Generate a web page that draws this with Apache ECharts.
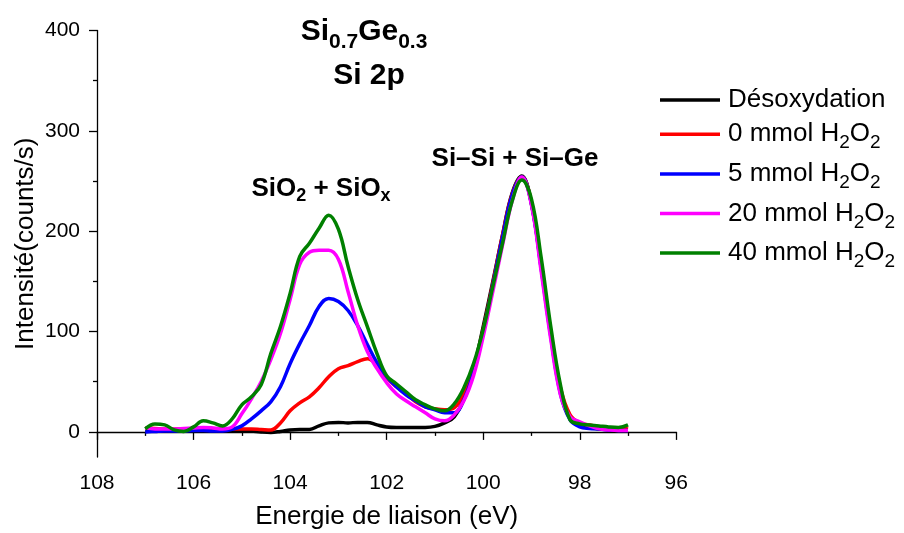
<!DOCTYPE html>
<html>
<head>
<meta charset="utf-8">
<script src="https://cdn.jsdelivr.net/npm/echarts@6/dist/echarts.min.js"></script>
<style>html,body{margin:0;padding:0;background:#fff}#c{width:904px;height:533px}</style>
</head>
<body>
<div id="c"></div>
<script>
// Binding energy (eV)
const energies = [107.0,106.8,106.6,106.4,106.2,106.0,105.8,105.6,105.4,105.2,105.0,104.8,104.6,104.4,104.2,104.0,103.8,103.6,103.4,103.2,103.0,102.8,102.6,102.4,102.2,102.0,101.8,101.6,101.4,101.2,101.0,100.8,100.6,100.4,100.2,100.0,99.8,99.6,99.4,99.2,99.0,98.8,98.6,98.4,98.2,98.0,97.8,97.6,97.4,97.2,97.0];
const desox  = [1,1,1,1,1,1.5,1.5,1,1,1.5,1.5,1,0,-0.5,0.5,2,2.5,2.5,6,9,9.5,9,9.5,9.5,7,5,4.5,4.5,4.5,4.5,5.5,9,15,33,63,105,150,196,238,255,227,165,98,40,14,7,4,3,2,1.5,1.5];
const h0     = [4,3.5,3,3,3,3,3.5,3.5,3,3,3,3,2.5,2,9,21,29,35,44,55,63,66,70,73,67,54,45,38,30,25,23,22,24,38,64,102,148,196,237,254,229,168,100,44,17,9,7,5,4,4,3];
const h5     = [0,0.5,1,1,1,1.5,1.5,1,1,2.5,6,13,21,30,45,68,88,106,125,133,130,121,106,87,69,55,45,37,31,25,22,19,19,32,60,100,146,194,236,254,227,163,95,38,12,5,3.5,3,2,1.5,1.5];
const h20    = [4,3,3,3,3.5,4,4.5,4,3,5,18,33,50,72,98,132,167,179,181,181,172,140,106,80,63,49,38,31,25,19,13,11,17,31,56,95,140,186,230,254,226,160,92,37,15,10,6,3,2,1.5,1.5];
const h40    = [3,8,7,2,0.5,5,11,9,6,13,27,35,47,78,105,138,175,188,203,216,202,165,132,105,78,56,48,40,32,27,23,21,28,44,68,102,145,188,230,251,232,174,105,47,12,8,7,6,5,4.5,7];
const seriesNames = ['Désoxydation','0 mmol H2O2','5 mmol H2O2','20 mmol H2O2','40 mmol H2O2'];
const seriesValues = [desox, h0, h5, h20, h40];
const colors = ['#000000','#ff0000','#0000ff','#ff00ff','#008000'];
const xTicks = {min: 96, max: 108, interval: 2};
const yTicks = {min: 0, max: 400, interval: 100};

const FONT = 'Liberation Sans, Arial, Helvetica, sans-serif';
const chart = echarts.init(document.getElementById('c'), null, {renderer: 'canvas'});

const series = seriesNames.map((n, i) => ({
  name: n, type: 'line', xAxisIndex: 0, yAxisIndex: 0,
  data: energies.map((e, k) => [e, seriesValues[i][k]]),
  showSymbol: false, symbol: 'none', smooth: 0.4,
  lineStyle: {width: 3.5, color: colors[i]}, itemStyle: {color: colors[i]},
  z: 2 + i
}));

const axisLineStyle = {show: true, lineStyle: {color: '#000', width: 1.3}};

function subText(x, y, parts, mainSize, subSize, off) {
  // parts: array of [text, isSub]
  const L = 2 * off + subSize;
  return {
    type: 'text', x: x, y: y, z: 10,
    style: {
      text: parts.map(p => (p[1] ? '{s|' : '{m|') + p[0] + '}').join(''),
      align: 'center', verticalAlign: 'middle', fill: '#000',
      rich: {
        m: {fontSize: mainSize, fontWeight: 'bold', fontFamily: FONT, lineHeight: L, verticalAlign: 'middle', fill: '#000'},
        s: {fontSize: subSize, fontWeight: 'bold', fontFamily: FONT, lineHeight: subSize, verticalAlign: 'bottom', fill: '#000'}
      }
    }
  };
}

chart.setOption({
  animation: false,
  backgroundColor: '#fff',
  textStyle: {fontFamily: FONT},
  grid: [
    {left: 97, top: 30.5, width: 579.3, height: 426.5, containLabel: false, outerBoundsMode: 'none'},
    {left: 97, top: 30.5, width: 579.3, height: 426.5 * 400 / 425, containLabel: false, outerBoundsMode: 'none'}
  ],
  xAxis: [
    {
      type: 'value', gridIndex: 0, min: xTicks.min, max: xTicks.max, interval: xTicks.interval, inverse: true,
      axisLine: axisLineStyle,
      axisTick: {show: true, inside: false, length: 8, lineStyle: {color: '#000', width: 1.3}},
      minorTick: {show: true, splitNumber: 2, length: 4, lineStyle: {color: '#000', width: 1.3}},
      axisLabel: {show: true, color: '#000', fontSize: 21, fontFamily: FONT, margin: 16},
      splitLine: {show: false}, minorSplitLine: {show: false},
      name: 'Energie de liaison (eV)', nameLocation: 'middle', nameGap: 47,
      nameTextStyle: {color: '#000', fontSize: 26, fontFamily: FONT}
    },
    {type: 'value', gridIndex: 1, min: xTicks.min, max: xTicks.max, show: false}
  ],
  yAxis: [
    {
      type: 'value', gridIndex: 0, min: -25, max: 400,
      axisLine: axisLineStyle, axisTick: {show: false}, axisLabel: {show: false},
      splitLine: {show: false},
      name: 'Intensité(counts/s)', nameLocation: 'middle', nameGap: 58,
      nameTextStyle: {color: '#000', fontSize: 26, fontFamily: FONT}
    },
    {
      type: 'value', gridIndex: 1, min: yTicks.min, max: yTicks.max, interval: yTicks.interval,
      axisLine: {show: false},
      axisTick: {show: true, inside: false, length: 8, lineStyle: {color: '#000', width: 1.3}},
      minorTick: {show: true, splitNumber: 2, length: 4, lineStyle: {color: '#000', width: 1.3}},
      axisLabel: {show: true, color: '#000', fontSize: 21, fontFamily: FONT, margin: 17},
      splitLine: {show: false}, minorSplitLine: {show: false}
    }
  ],
  legend: {
    orient: 'vertical', left: 660, top: 87, padding: 0, itemGap: 3,
    icon: 'rect', itemWidth: 60, itemHeight: 3.5,
    data: seriesNames,
    formatter: function (name) {
      const m = name.match(/^(.*)H2O2$/);
      if (!m) return name;
      return '{m|' + m[1] + 'H}{s|2}{m|O}{s|2}';
    },
    textStyle: {
      color: '#000', fontSize: 26, fontFamily: FONT, lineHeight: 22, padding: [0, 0, 0, 3],
      rich: {
        m: {color: '#000', fontSize: 26, fontFamily: FONT, lineHeight: 36.6, verticalAlign: 'middle'},
        s: {color: '#000', fontSize: 19, fontFamily: FONT, lineHeight: 19.6, verticalAlign: 'bottom'}
      }
    }
  },
  graphic: [
    subText(364, 31.7, [['Si', false], ['0.7', true], ['Ge', false], ['0.3', true]], 30, 21, 11),
    {
      type: 'text', x: 369, y: 75.5, z: 10,
      style: {text: 'Si 2p', align: 'center', verticalAlign: 'middle', fill: '#000',
        fontSize: 30, fontWeight: 'bold', fontFamily: FONT}
    },
    subText(321, 188.5, [['SiO', false], ['2', true], [' + SiO', false], ['x', true]], 26, 18, 8),
    {
      type: 'text', x: 515, y: 158.5, z: 10,
      style: {text: 'Si\u2013Si + Si\u2013Ge', align: 'center', verticalAlign: 'middle', fill: '#000',
        fontSize: 26, fontWeight: 'bold', fontFamily: FONT}
    }
  ],
  series: series
});
</script>
</body>
</html>
